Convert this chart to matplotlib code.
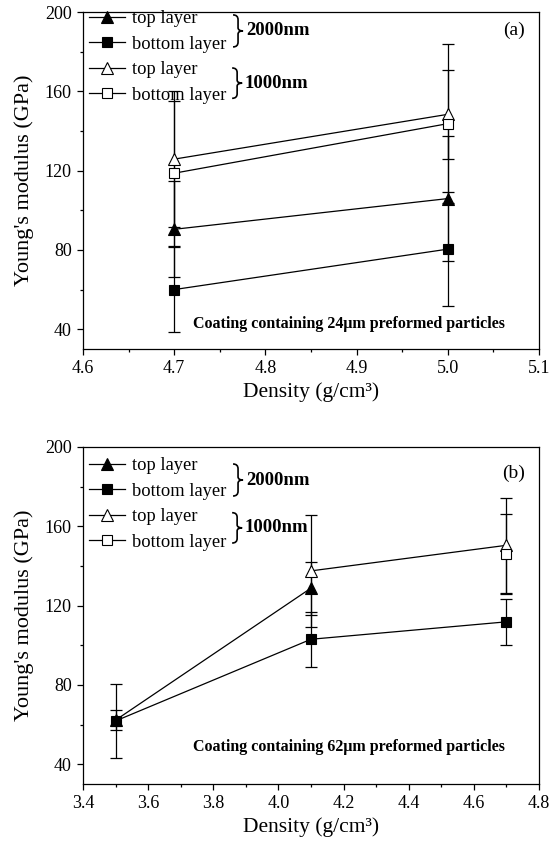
import matplotlib
matplotlib.use("Agg")
import matplotlib.pyplot as plt
from matplotlib.path import Path
from matplotlib.patches import PathPatch
from matplotlib.ticker import MultipleLocator

plt.rcParams['font.family'] = ['Liberation Serif', 'DejaVu Serif']

# (a) coating with 24um preformed particles
x_a = [4.7, 5.0]
top2000_a = [90.4, 105.9]
top2000_err_a = [24.3, 31.6]
bot2000_a = [60.0, 80.4]
bot2000_err_a = [21.5, 28.7]
top1000_a = [125.8, 148.4]
top1000_err_a = [34.3, 22.6]
bot1000_a = [118.7, 143.7]
bot1000_err_a = [36.6, 40.2]

# (b) coating with 62um preformed particles
x_b_top2000 = [3.5, 4.1]
top2000_b = [62.2, 128.8]
top2000_err_b = [5.2, 13.4]
x_b_bot2000 = [3.5, 4.1, 4.7]
bot2000_b = [61.8, 103.0, 111.8]
bot2000_err_b = [18.5, 14.0, 11.5]
x_b_top1000 = [4.1, 4.7]
top1000_b = [137.5, 150.4]
top1000_err_b = [28.3, 24.1]
x_b_bot1000 = [4.7]
bot1000_b = [146.1]
bot1000_err_b = [20.1]

labels = ["top layer", "bottom layer", "top layer", "bottom layer"]
markers = ["^", "s", "^", "s"]
faces = ["black", "black", "white", "white"]
sizes = [9, 7, 9, 7]


def brace(ax, x, yc, h, w):
    # right-facing curly brace in axes coordinates
    top, bot, xm = yc + h / 2, yc - h / 2, x + w / 2
    verts = [(x, top), (xm, top), (xm, top - 0.15 * h),
             (xm, yc + 0.1 * h),
             (xm, yc), (x + w, yc),
             (xm, yc), (xm, yc - 0.1 * h),
             (xm, bot + 0.15 * h),
             (xm, bot), (x, bot)]
    codes = [Path.MOVETO, Path.CURVE3, Path.CURVE3, Path.LINETO,
             Path.CURVE3, Path.CURVE3, Path.CURVE3, Path.CURVE3,
             Path.LINETO, Path.CURVE3, Path.CURVE3]
    ax.add_patch(PathPatch(Path(verts, codes), transform=ax.transAxes,
                           fill=False, lw=1.2, color='black', clip_on=False))


def draw_panel(ax, series, xlim, xmajor, note, tag, leg_y, brace_y, tag_y, note_y):
    handles = []
    for (xs, ys, errs), lab, m, fc, ms in zip(series, labels, markers, faces, sizes):
        ax.errorbar(xs, ys, yerr=errs, fmt='none', ecolor='black',
                    elinewidth=0.9, capsize=4, capthick=0.9, zorder=2)
        h, = ax.plot(xs, ys, '-', color='black', lw=0.9, marker=m,
                     markerfacecolor=fc, markeredgecolor='black',
                     markeredgewidth=0.8, ms=ms, label=lab, zorder=3)
        handles.append(h)

    ax.set_xlim(*xlim)
    ax.set_ylim(30, 200)
    ax.xaxis.set_major_locator(MultipleLocator(xmajor))
    ax.xaxis.set_minor_locator(MultipleLocator(xmajor / 2))
    ax.yaxis.set_major_locator(MultipleLocator(40))
    ax.yaxis.set_minor_locator(MultipleLocator(20))
    ax.tick_params(which='both', direction='out', top=False, right=False,
                   labelsize=13)
    ax.tick_params(which='major', length=4.5, width=0.9)
    ax.tick_params(which='minor', length=2.5, width=0.9)
    for sp in ax.spines.values():
        sp.set_linewidth(0.9)

    ax.set_xlabel("Density (g/cm³)", fontsize=15.5, labelpad=4)
    ax.set_ylabel("Young's modulus (GPa)", fontsize=16, labelpad=8)

    ax.legend(handles=handles, loc='upper left', bbox_to_anchor=(-0.012, leg_y),
              frameon=False, fontsize=13.3, handlelength=1.95,
              handletextpad=0.38, labelspacing=0.46, borderaxespad=0.2)

    brace(ax, 0.329, brace_y[0], 0.095, 0.022)
    ax.text(0.357, brace_y[0], "2000nm", transform=ax.transAxes, fontsize=13.5,
            fontweight='bold', va='center', ha='left')
    brace(ax, 0.327, brace_y[1], 0.09, 0.022)
    ax.text(0.355, brace_y[1], "1000nm", transform=ax.transAxes, fontsize=13.5,
            fontweight='bold', va='center', ha='left')

    ax.text(0.969, tag_y, tag, transform=ax.transAxes, fontsize=14,
            va='center', ha='right')
    ax.text(0.583, note_y, note, transform=ax.transAxes, fontsize=11.5,
            fontweight='bold', va='center', ha='center')


fig = plt.figure(figsize=(5.49, 8.48), dpi=100)
ax1 = fig.add_axes([0.1512, 0.5884, 0.8306, 0.3974])
ax2 = fig.add_axes([0.1512, 0.0755, 0.8306, 0.3974])

draw_panel(ax1,
           [(x_a, top2000_a, top2000_err_a), (x_a, bot2000_a, bot2000_err_a),
            (x_a, top1000_a, top1000_err_a), (x_a, bot1000_a, bot1000_err_a)],
           (4.6, 5.1), 0.1, "Coating containing 24μm preformed particles",
           "(a)", 1.038, (0.944, 0.789), 0.947, 0.074)

draw_panel(ax2,
           [(x_b_top2000, top2000_b, top2000_err_b),
            (x_b_bot2000, bot2000_b, bot2000_err_b),
            (x_b_top1000, top1000_b, top1000_err_b),
            (x_b_bot1000, bot1000_b, bot1000_err_b)],
           (3.4, 4.8), 0.2, "Coating containing 62μm preformed particles",
           "(b)", 1.003, (0.902, 0.76), 0.923, 0.11)

fig.savefig("out.png", dpi=100)
